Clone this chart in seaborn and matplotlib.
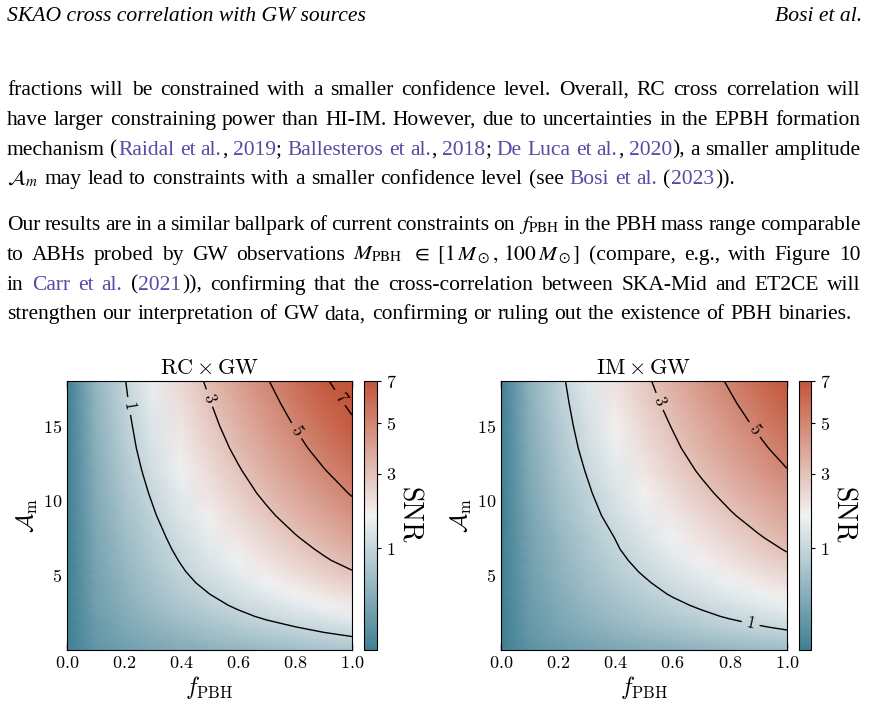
import matplotlib
matplotlib.use("Agg")
import matplotlib.pyplot as plt
from matplotlib.colors import PowerNorm
import seaborn as sns

# ---------------- data ----------------
f_pbh = [0.0, 0.1, 0.2, 0.3, 0.4, 0.5, 0.6, 0.7, 0.8, 0.9, 1.0]
a_m = [0.0, 0.75, 1.5, 2.25, 3.0, 3.75, 4.5, 5.25, 6.0, 6.75, 7.5,
       9.0, 10.5, 12.0, 13.5, 15.0, 16.5, 18.0]

# SNR, rows follow a_m, columns follow f_pbh
snr_rc = [
    [0.00, 0.06, 0.13, 0.20, 0.26, 0.32, 0.39, 0.45, 0.52, 0.59, 0.65],
    [0.00, 0.09, 0.18, 0.27, 0.37, 0.46, 0.56, 0.65, 0.75, 0.85, 0.94],
    [0.00, 0.10, 0.22, 0.34, 0.46, 0.59, 0.72, 0.85, 0.98, 1.11, 1.24],
    [0.00, 0.12, 0.26, 0.42, 0.57, 0.73, 0.90, 1.07, 1.24, 1.41, 1.58],
    [0.00, 0.14, 0.30, 0.48, 0.67, 0.87, 1.07, 1.28, 1.49, 1.71, 1.93],
    [0.00, 0.15, 0.34, 0.55, 0.77, 1.00, 1.24, 1.49, 1.75, 2.01, 2.28],
    [0.00, 0.16, 0.37, 0.61, 0.86, 1.13, 1.41, 1.70, 2.00, 2.31, 2.63],
    [0.00, 0.17, 0.40, 0.66, 0.95, 1.25, 1.57, 1.90, 2.25, 2.60, 2.96],
    [0.00, 0.18, 0.43, 0.72, 1.03, 1.37, 1.72, 2.10, 2.49, 2.89, 3.30],
    [0.00, 0.19, 0.46, 0.77, 1.11, 1.48, 1.87, 2.28, 2.70, 3.14, 3.60],
    [0.00, 0.20, 0.48, 0.82, 1.19, 1.58, 2.01, 2.45, 2.92, 3.40, 3.90],
    [0.00, 0.23, 0.56, 0.94, 1.37, 1.83, 2.32, 2.83, 3.37, 3.92, 4.50],
    [0.00, 0.26, 0.63, 1.06, 1.55, 2.07, 2.62, 3.20, 3.81, 4.44, 5.09],
    [0.00, 0.28, 0.70, 1.18, 1.72, 2.29, 2.91, 3.55, 4.23, 4.93, 5.65],
    [0.00, 0.31, 0.77, 1.30, 1.89, 2.52, 3.20, 3.91, 4.65, 5.42, 6.21],
    [0.00, 0.34, 0.83, 1.41, 2.05, 2.74, 3.47, 4.25, 5.05, 5.89, 6.75],
    [0.00, 0.36, 0.90, 1.52, 2.21, 2.95, 3.74, 4.57, 5.44, 6.34, 7.27],
    [0.00, 0.39, 0.96, 1.63, 2.37, 3.17, 4.02, 4.91, 5.84, 6.80, 7.80],
]
snr_im = [
    [0.00, 0.05, 0.10, 0.15, 0.20, 0.25, 0.30, 0.35, 0.40, 0.45, 0.50],
    [0.00, 0.07, 0.15, 0.22, 0.30, 0.38, 0.46, 0.54, 0.62, 0.70, 0.78],
    [0.00, 0.09, 0.19, 0.29, 0.40, 0.50, 0.61, 0.72, 0.83, 0.95, 1.06],
    [0.00, 0.10, 0.22, 0.35, 0.48, 0.62, 0.76, 0.90, 1.05, 1.19, 1.34],
    [0.00, 0.11, 0.25, 0.41, 0.56, 0.73, 0.90, 1.07, 1.25, 1.44, 1.62],
    [0.00, 0.12, 0.28, 0.46, 0.64, 0.84, 1.04, 1.25, 1.47, 1.69, 1.91],
    [0.00, 0.13, 0.31, 0.51, 0.72, 0.94, 1.18, 1.42, 1.68, 1.93, 2.20],
    [0.00, 0.14, 0.34, 0.56, 0.80, 1.05, 1.32, 1.60, 1.89, 2.19, 2.50],
    [0.00, 0.15, 0.36, 0.61, 0.87, 1.16, 1.46, 1.78, 2.11, 2.45, 2.80],
    [0.00, 0.16, 0.39, 0.65, 0.95, 1.26, 1.59, 1.94, 2.30, 2.68, 3.07],
    [0.00, 0.17, 0.41, 0.70, 1.01, 1.36, 1.72, 2.10, 2.50, 2.91, 3.34],
    [0.00, 0.19, 0.48, 0.81, 1.18, 1.57, 1.99, 2.43, 2.90, 3.37, 3.87],
    [0.00, 0.22, 0.54, 0.92, 1.34, 1.79, 2.26, 2.77, 3.29, 3.84, 4.40],
    [0.00, 0.25, 0.61, 1.03, 1.50, 2.01, 2.55, 3.11, 3.70, 4.32, 4.95],
    [0.00, 0.27, 0.67, 1.14, 1.66, 2.21, 2.81, 3.43, 4.08, 4.75, 5.45],
    [0.00, 0.30, 0.73, 1.24, 1.80, 2.41, 3.05, 3.73, 4.44, 5.17, 5.93],
    [0.00, 0.32, 0.79, 1.34, 1.95, 2.61, 3.30, 4.04, 4.80, 5.60, 6.42],
    [0.00, 0.35, 0.85, 1.44, 2.10, 2.80, 3.55, 4.34, 5.16, 6.02, 6.90],
]
panel_names = ["RC", "IM"]
contour_levels = [1, 3, 5, 7]
cbar_ticks = [1, 3, 5, 7]
x_ticks = [0.0, 0.2, 0.4, 0.6, 0.8, 1.0]
y_ticks = [5, 10, 15]

# page text around the figure
K = "black"
LINK = "#554ba5"
header_left = "SKAO cross correlation with GW sources"
header_right = "Bosi et al."
paragraph_1 = [
    ([("fractions will be constrained with a smaller confidence level.  Overall, RC cross correlation will", K)], True),
    ([("have larger constraining power than HI-IM. However, due to uncertainties in the EPBH formation", K)], True),
    ([("mechanism (", K), ("Raidal et al.", LINK), (", ", K), ("2019", LINK), ("; ", K),
      ("Ballesteros et al.", LINK), (", ", K), ("2018", LINK), ("; ", K), ("De Luca et al.", LINK),
      (", ", K), ("2020", LINK), ("), a smaller amplitude", K)], True),
    ([(r"$\mathcal{A}_m$ may lead to constraints with a smaller confidence level (see ", K),
      ("Bosi et al.", LINK), (" (", K), ("2023", LINK), ("))." , K)], False),
]
paragraph_2 = [
    ([("Our results are in a similar ballpark of current constraints on ", K), (r"$f_\mathrm{PBH}$", K),
      (" in the PBH mass range comparable", K)], True),
    ([("to ABHs probed by GW observations ", K), (r"$M_\mathrm{PBH}$ $\in$ $[1\,M_\odot,\,100\,M_\odot]$", K),
      (" (compare, e.g., with Figure 10", K)], True),
    ([("in ", K), ("Carr et al.", LINK), (" (", K), ("2021", LINK),
      (")), confirming that the cross-correlation between SKA-Mid and ET2CE will", K)], True),
    ([("strengthen our interpretation of GW data, confirming or ruling out the existence of PBH binaries.", K)], False),
]

# ---------------- style ----------------
W, H = 870, 703
sns.set_style("ticks", {"axes.edgecolor": "black", "text.color": "black", "axes.labelcolor": "black",
                        "xtick.color": "black", "ytick.color": "black"})
plt.rcParams["font.family"] = ["cmr10"]
plt.rcParams["mathtext.fontset"] = "cm"
plt.rcParams["axes.formatter.use_mathtext"] = True

fig = plt.figure(figsize=(W / 100, H / 100), dpi=100)
renderer = fig.canvas.get_renderer()
cmap = sns.diverging_palette(220, 20, as_cmap=True)
norm = PowerNorm(0.5, vmin=0, vmax=7)


def px_box(x0, y0, x1, y1):
    return [x0 / W, 1 - y1 / H, (x1 - x0) / W, (y1 - y0) / H]


# ---------------- page text ----------------
X0, X1 = 7, 861


def body_style(size, italic=False):
    return dict(family="Liberation Serif", fontsize=size, math_fontfamily="stix",
                style="italic" if italic else "normal")


def text_width(s, st):
    t = fig.text(0, 0, s, **st)
    w = t.get_window_extent(renderer).width
    t.remove()
    return w


def split_words(segments):
    words, cur = [], []
    for text, color in segments:
        buf, in_math = "", False
        for ch in text:
            if ch == "$":
                in_math = not in_math
            if ch == " " and not in_math:
                if buf:
                    cur.append((buf, color))
                    buf = ""
                if cur:
                    words.append(cur)
                    cur = []
            else:
                buf += ch
        if buf:
            cur.append((buf, color))
    if cur:
        words.append(cur)
    return words


def line_widths(segments, st):
    words = split_words(segments)
    widths = [[text_width(s, st) + 0.6 for s, _ in w] for w in words]
    return words, widths


def draw_line(segments, y, justify, st):
    words, widths = line_widths(segments, st)
    total = sum(sum(w) for w in widths)
    if justify:
        gap = (X1 - X0 - total) / (len(words) - 1)
    else:
        gap = text_width("a a", st) - text_width("aa", st)
    x = X0
    for w, ws in zip(words, widths):
        for (s, c), wi in zip(w, ws):
            fig.text(x / W, 1 - y / H, s, color=c, va="baseline", ha="left", **st)
            x += wi
        x += gap


# font size chosen so the last line has its natural width in the reference
probe = body_style(16)
words, widths = line_widths(paragraph_2[-1][0], probe)
sp = text_width("a a", probe) - text_width("aa", probe)
nat = sum(sum(w) for w in widths) + sp * (len(words) - 1)
body_size = 16 * (852 - X0) / nat
st = body_style(body_size)

hsize = 16 * 360 / text_width(header_left, body_style(16, True))
fig.text(X0 / W, 1 - 21 / H, header_left, va="baseline", ha="left", **body_style(hsize, True))
fig.text(862 / W, 1 - 21 / H, header_right, va="baseline", ha="right", **body_style(hsize, True))

for lines, y0 in ((paragraph_1, 95), (paragraph_2, 230)):
    for i, (segs, just) in enumerate(lines):
        draw_line(segs, y0 + 29.8 * i, just, st)

# ---------------- heatmaps ----------------
panels = [
    (snr_rc, px_box(67, 381, 352, 650), px_box(364, 381, 377, 650),
     [(0.21, 16.3), (0.49, 16.8), (0.80, 14.6), (0.95, 16.8)]),
    (snr_im, px_box(501, 381, 787, 650), px_box(799, 381, 811, 650),
     [(0.55, 16.6), (0.89, 14.8), (0.875, 1.95)]),
]
for name, (snr, apos, cpos, lpos) in zip(panel_names, panels):
    ax = fig.add_axes(apos)
    mesh = ax.pcolormesh(f_pbh, a_m, snr, shading="gouraud", cmap=cmap, norm=norm)
    cs = ax.contour(f_pbh, a_m, snr, levels=contour_levels, colors="k", linewidths=1)
    ax.clabel(cs, fmt="%d", fontsize=12, inline=True, manual=lpos)
    ax.set_xlim(0, 1)
    ax.set_ylim(0, 18)
    ax.set_xticks(x_ticks)
    ax.set_yticks(y_ticks)
    ax.tick_params(direction="in", top=True, right=True, length=5, width=1, labelsize=13)
    ax.set_title(r"$\mathrm{%s}\times\mathrm{GW}$" % name, fontsize=16, pad=5)
    ax.set_xlabel(r"$f_\mathrm{PBH}$", fontsize=17, labelpad=2)
    ax.set_ylabel(r"$\mathcal{A}_\mathrm{m}$", fontsize=17, labelpad=2)
    cax = fig.add_axes(cpos)
    cb = fig.colorbar(mesh, cax=cax, ticks=cbar_ticks)
    cb.ax.tick_params(direction="out", length=3, labelsize=13)
    cb.set_label("SNR", rotation=270, fontsize=20, labelpad=18)

fig.savefig("out.png", dpi=100)
